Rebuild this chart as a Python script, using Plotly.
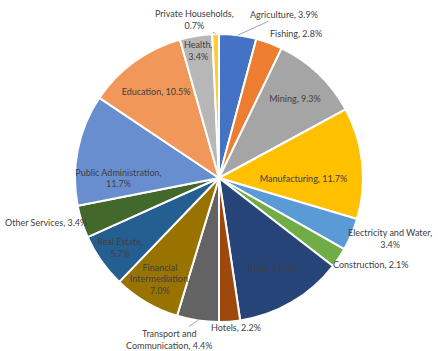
import math
import plotly.graph_objects as go

sectors = ["Agriculture", "Fishing", "Mining", "Manufacturing", "Electricity and Water",
           "Construction", "Trade", "Hotels", "Transport and Communication",
           "Financial Intermediation", "Real Estate", "Other Services",
           "Public Administration", "Education", "Health", "Private Households"]
shares = [3.9, 2.8, 9.3, 11.7, 3.4, 2.1, 11.4, 2.2, 4.4, 7.0, 5.7, 3.4, 11.7, 10.5, 3.4, 0.7]
label_names = ["Agriculture,", "Fishing,", "Mining,", "Manufacturing,", "Electricity and Water,<br>",
               "Construction,", "Trade,", "Hotels,", "Transport and<br>Communication,",
               "Financial<br>Intermediation,<br>", "Real Estate,<br>", "Other Services,",
               "Public Administration,<br>", "Education,", "Health,<br>", "Private Households,<br>"]
colors = ["#4472C4", "#ED7D31", "#A5A5A5", "#FFC000", "#5B9BD5", "#70AD47", "#264478", "#9E480E",
          "#636363", "#997300", "#255E91", "#43682B", "#698ED0", "#F1975A", "#B7B7B7", "#FFCD33"]

# outside label styling: (pixel offset x, pixel offset y, draw leader line)
outside_style = {
    "Agriculture": (46, -21, True),
    "Fishing": (27, -10, False),
    "Electricity and Water": (39, 4, False),
    "Construction": (32, 7, False),
    "Hotels": (6, 6, False),
    "Transport and Communication": (-28, 19, True),
    "Other Services": (-36, 1, False),
    "Private Households": (-21, -15, True),
}

W, H = 438, 351
cx, cy, R = 219, 178, 144  # pie centre / radius in pixels (from top-left)

texts = [f"{n} {v:.1f}%" if not n.endswith("<br>") else f"{n}{v:.1f}%" for n, v in zip(label_names, shares)]
inside_text = [("" if s in outside_style else t) for s, t in zip(sectors, texts)]
positions = [("none" if s in outside_style else "inside") for s in sectors]

font = dict(family="Lato, Open Sans, sans-serif", size=9, color="#404040")

fig = go.Figure(go.Pie(
    labels=sectors, values=shares, text=inside_text, textinfo="text",
    textposition=positions, insidetextorientation="horizontal",
    sort=False, direction="clockwise", rotation=0,
    marker=dict(colors=colors, line=dict(color="white", width=2)),
    textfont=font,
    domain=dict(x=[(cx - R) / W, (cx + R) / W], y=[(H - cy - R) / H, (H - cy + R) / H]),
    hoverinfo="none",
))

total = sum(shares)
cum = 0.0
annotations = []
for s, v, t in zip(sectors, shares, texts):
    mid = (cum + v / 2) / total * 2 * math.pi
    cum += v
    if s not in outside_style:
        continue
    ox, oy, line = outside_style[s]
    px = cx + R * math.sin(mid)
    py = cy - R * math.cos(mid)
    annotations.append(dict(
        x=px / W, y=(H - py) / H, xref="paper", yref="paper",
        text=t, showarrow=True, ax=ox, ay=oy, axref="pixel", ayref="pixel",
        arrowhead=0, arrowwidth=0.8, standoff=0,
        arrowcolor="#8c8c8c" if line else "rgba(0,0,0,0)",
        font=font, align="center",
    ))

fig.update_layout(
    width=W, height=H, margin=dict(l=0, r=0, t=0, b=0),
    showlegend=False, paper_bgcolor="white",
    uniformtext=dict(minsize=9, mode="show"),
    annotations=annotations,
)
fig.write_html("out.html")
